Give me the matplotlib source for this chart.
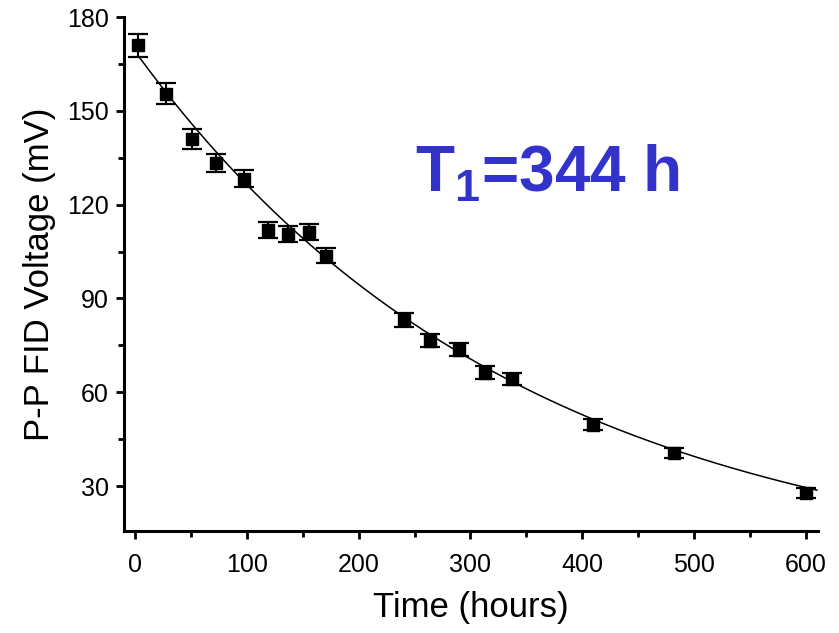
import numpy as np
import matplotlib
matplotlib.use("Agg")
import matplotlib.pyplot as plt

plt.rcParams['font.family'] = ['Liberation Sans', 'DejaVu Sans']
plt.rcParams['mathtext.fontset'] = 'custom'
plt.rcParams['mathtext.rm'] = 'Liberation Sans'
plt.rcParams['mathtext.bf'] = 'Liberation Sans:bold'

# measured points
time_h = [3, 28, 51, 72, 97, 119, 137, 156, 171, 241, 264, 290, 313, 337, 410, 482, 600]
voltage = [171.0, 155.5, 141.0, 133.3, 128.3, 112.0, 110.7, 111.2, 103.7,
           83.2, 76.5, 73.6, 66.3, 64.2, 49.6, 40.7, 27.8]
err = [3.7, 3.3, 3.2, 2.9, 2.8, 2.5, 2.5, 2.6, 2.5, 2.2, 2.1, 2.1, 2.0, 2.0, 1.7, 1.6, 1.6]

# fitted decay
T1 = 344.0
A0 = 169.0
t_fit = np.linspace(3, 610, 300)
v_fit = A0 * np.exp(-t_fit / T1)

fig = plt.figure(figsize=(8.39, 6.33), dpi=100)
ax = fig.add_axes([0.148, 0.161, 0.827, 0.812])

ax.plot(t_fit, v_fit, color='black', lw=1.1, zorder=2)
ax.errorbar(time_h, voltage, yerr=err, fmt='s', color='black', ms=9,
            ecolor='black', elinewidth=1.5, capsize=7.5, capthick=1.6, zorder=3)

ax.set_xlim(-9.8, 611)
ax.set_ylim(15.6, 180)
ax.set_xticks([0, 100, 200, 300, 400, 500, 600])
ax.set_xticks([50, 150, 250, 350, 450, 550], minor=True)
ax.set_yticks([30, 60, 90, 120, 150, 180])
ax.set_yticks([45, 75, 105, 135, 165], minor=True)

for s in ['top', 'right']:
    ax.spines[s].set_visible(False)
for s in ['left', 'bottom']:
    ax.spines[s].set_linewidth(2.2)

ax.tick_params(which='major', direction='out', length=6, width=2, labelsize=18)
ax.tick_params(axis='x', which='major', pad=10)
ax.tick_params(axis='y', which='major', pad=5)
ax.tick_params(which='minor', direction='out', length=4, width=2)

ax.set_xlabel('Time (hours)', fontsize=25, labelpad=10)
ax.set_ylabel('P-P FID Voltage (mV)', fontsize=25, labelpad=8)

ax.text(0.419, 0.66, r'$\mathbf{T_1}$=344 h', transform=ax.transAxes,
        fontsize=46, fontweight='bold', color='#3333CC', va='baseline')

fig.savefig('out.png', dpi=100)
